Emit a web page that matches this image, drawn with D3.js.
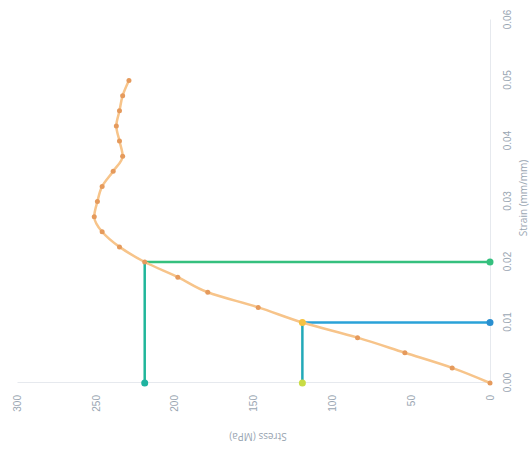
<!DOCTYPE html>
<html><head><meta charset="utf-8">
<script src="https://cdn.jsdelivr.net/npm/d3@7/dist/d3.min.js"></script>
<style>body{margin:0;background:#fff;}svg{display:block;font-family:"Open Sans",sans-serif;}</style>
</head><body><svg id="c" width="532" height="450"></svg>
<script>
const strain = [0, 0.0025, 0.005, 0.0075, 0.01, 0.0125, 0.015, 0.0175, 0.02, 0.0225, 0.025, 0.0275, 0.03, 0.0325, 0.035, 0.0375, 0.04, 0.0425, 0.045, 0.0475, 0.05];
const stress = [0, 24, 54, 84, 119, 147, 179, 198, 219, 235, 246, 251, 249, 246, 239, 233, 235, 237, 235, 233, 229];
const strainTicks = [0, 0.01, 0.02, 0.03, 0.04, 0.05, 0.06];
const stressTicks = [0, 50, 100, 150, 200, 250, 300];
const yieldPt = [0.02, 219];
const propPt = [0.01, 119];
const xTitle = "Strain (mm/mm)";
const yTitle = "Stress (MPa)";

const svg = d3.select("#c");
// chart drawn in its own frame then rotated -90deg
const g = svg.append("g").attr("transform", "translate(0,450) rotate(-90)");
const x = d3.scaleLinear().domain([0, 0.06]).range([67, 430]);
const y = d3.scaleLinear().domain([0, 300]).range([490, 17]);

const xa = g.append("g").attr("transform", "translate(0,490)")
  .call(d3.axisBottom(x).tickValues(strainTicks).tickFormat(d3.format(".2f")).tickSize(0).tickPadding(14));
const ya = g.append("g").attr("transform", "translate(67,0)")
  .call(d3.axisLeft(y).tickValues(stressTicks).tickSize(0).tickPadding(12));
[xa, ya].forEach(a => {
  a.select(".domain").attr("stroke", "#e6e9ee");
  a.selectAll("text").attr("fill", "#9aa6b2").style("font-size", "10px");
});
g.append("text").attr("x", 252).attr("y", 527).attr("text-anchor", "middle")
  .attr("fill", "#9aa6b2").style("font-size", "10px").text(xTitle);
g.append("text").attr("transform", "translate(17,258) rotate(-90)").attr("text-anchor", "middle")
  .attr("fill", "#9aa6b2").style("font-size", "10px").text(yTitle);

// guide lines
function guide(pt, cV, cH, cEndX, cEndY) {
  g.append("line").attr("x1", x(pt[0])).attr("x2", x(pt[0])).attr("y1", y(0)).attr("y2", y(pt[1]))
    .attr("stroke", cV).attr("stroke-width", 2.5);
  g.append("line").attr("x1", x(0)).attr("x2", x(pt[0])).attr("y1", y(pt[1])).attr("y2", y(pt[1]))
    .attr("stroke", cH).attr("stroke-width", 2.5);
  g.append("circle").attr("cx", x(pt[0])).attr("cy", y(0)).attr("r", 3.5).attr("fill", cEndX);
  g.append("circle").attr("cx", x(0)).attr("cy", y(pt[1])).attr("r", 3.5).attr("fill", cEndY);
}
guide(yieldPt, "#35c07e", "#20b69a", "#35c07e", "#1fb3a0");
guide(propPt, "#2aa2d8", "#22a9b8", "#2a8fd0", "#c9dc45");

const data = strain.map((s, i) => [s, stress[i]]);
g.append("path").datum(data)
  .attr("d", d3.line().x(d => x(d[0])).y(d => y(d[1])).curve(d3.curveMonotoneX))
  .attr("fill", "none").attr("stroke", "#f7c48a").attr("stroke-width", 2.5);
g.selectAll(".pt").data(data).join("circle").attr("class", "pt")
  .attr("cx", d => x(d[0])).attr("cy", d => y(d[1])).attr("r", 2.5)
  .attr("fill", "#e59a5c");
g.append("circle").attr("cx", x(propPt[0])).attr("cy", y(propPt[1])).attr("r", 3.5).attr("fill", "#f5c242");
</script></body></html>
